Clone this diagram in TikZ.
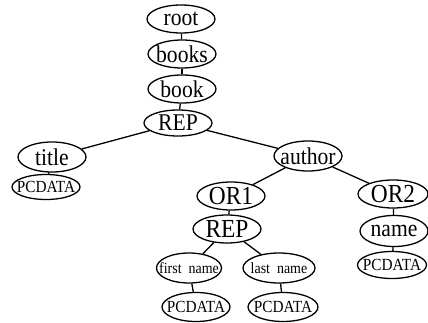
\documentclass[tikz,border=0pt]{standalone}
\usepackage{fontspec}
\setmainfont{Liberation Serif}
\newfontfamily\condfont[FakeStretch=0.9]{Liberation Serif}
\usetikzlibrary{shapes.geometric}
\begin{document}
\begin{tikzpicture}[x=1pt,y=-1pt,
  el/.style={draw, ellipse, line width=1.3pt, inner sep=0pt, inner xsep=-6pt, minimum width=68pt, minimum height=28pt, font=\condfont\fontsize{24}{24}\selectfont},
  small/.style={el, minimum height=27pt, inner xsep=-10pt, font=\condfont\fontsize{17}{17}\selectfont},
  edge/.style={line width=1.3pt}]
\useasboundingbox (0,0) rectangle (428,323);
\node[el] (root) at (181,19) {root};
\node[el] (books) at (182,54) {books};
\node[el] (book) at (182,89) {book};
\node[el, minimum height=26pt] (rep) at (178,123) {REP};
\node[el, minimum height=30pt] (title) at (52,157) {title};
\node[small, minimum height=25pt] (pc1) at (46,187) {PCDATA};
\node[el, minimum height=30pt] (author) at (308,156) {author};
\node[el, font=\condfont\fontsize{26}{26}\selectfont] (or1) at (231,196) {OR1};
\node[el, minimum width=70pt, font=\condfont\fontsize{26}{26}\selectfont] (or2) at (393,194) {OR2};
\node[el, font=\condfont\fontsize{26}{26}\selectfont] (rep2) at (227,229) {REP};
\node[el, minimum height=31pt] (name) at (394,231) {name};
\node[small, minimum width=69pt] (pc4) at (392,265) {PCDATA};
\node[small, minimum width=65pt, minimum height=30pt, font=\condfont\fontsize{15.5}{15.5}\selectfont] (first) at (189,268) {first\ \ name};
\node[small, minimum width=72pt, minimum height=30pt, font=\condfont\fontsize{15.5}{15.5}\selectfont] (last) at (279,268) {last\ \ name};
\node[small, minimum height=29pt] (pc2) at (196,307) {PCDATA};
\node[small, minimum width=70pt, minimum height=29pt] (pc3) at (283,307) {PCDATA};
\draw[edge] (root) -- (books);
\draw[edge] (books) -- (book);
\draw[edge] (book) -- (rep);
\draw[edge] (rep) -- (title);
\draw[edge] (rep) -- (author);
\draw[edge] (title) -- (pc1);
\draw[edge] (author) -- (or1);
\draw[edge] (author) -- (or2);
\draw[edge] (or1) -- (rep2);
\draw[edge] (or2) -- (name);
\draw[edge] (name) -- (pc4);
\draw[edge] (rep2) -- (first);
\draw[edge] (rep2) -- (last);
\draw[edge] (first) -- (pc2);
\draw[edge] (last) -- (pc3);
\end{tikzpicture}
\end{document}
